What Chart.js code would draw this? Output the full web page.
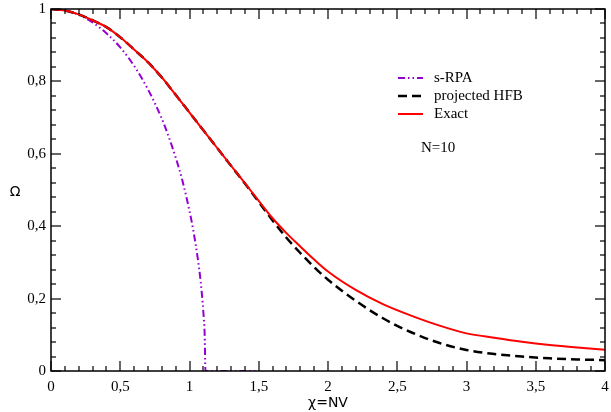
<!DOCTYPE html>
<html>
<head>
<meta charset="utf-8">
<title>Omega vs chi</title>
<script src="https://cdn.jsdelivr.net/npm/chart.js@4.4.1/dist/chart.umd.min.js"></script>
<style>
    html, body { margin: 0; padding: 0; background: #fff; }
    #wrap { width: 611px; height: 412px; }
</style>
</head>
<body>
<div id="wrap"><canvas id="omegaChart" width="611" height="412"></canvas></div>
<script>
// Datos (chi = N V)
const chiGrid = [0, 0.1, 0.2, 0.3, 0.4, 0.5, 0.6, 0.7, 0.8, 0.9, 1.0, 1.1, 1.2, 1.3, 1.4, 1.5,
    1.6, 1.7, 1.8, 1.9, 2.0, 2.2, 2.4, 2.6, 2.8, 3.0, 3.2, 3.4, 3.6, 3.8, 4.0];
const omegaExact = [1.000, 0.996, 0.985, 0.969, 0.950, 0.922, 0.888, 0.853, 0.811, 0.763, 0.714,
    0.665, 0.616, 0.567, 0.519, 0.470, 0.422, 0.381, 0.344, 0.308, 0.275, 0.224, 0.184,
    0.153, 0.126, 0.104, 0.092, 0.081, 0.072, 0.065, 0.059];
const omegaHFB = [1.000, 0.996, 0.985, 0.969, 0.950, 0.922, 0.888, 0.853, 0.811, 0.763, 0.714,
    0.665, 0.616, 0.567, 0.518, 0.467, 0.416, 0.368, 0.326, 0.287, 0.252, 0.194, 0.145,
    0.107, 0.078, 0.058, 0.047, 0.040, 0.035, 0.032, 0.030];

const chiRPA = [0, 0.1, 0.2, 0.3, 0.4, 0.5, 0.6, 0.7, 0.8, 0.85, 0.9, 0.95, 1.0, 1.03, 1.06,
    1.08, 1.1, 1.11, 1.115, 1.2, 1.3, 1.4, 1.48];
const omegaRPA = [1.000, 0.996, 0.984, 0.963, 0.933, 0.894, 0.843, 0.778, 0.697, 0.647, 0.590,
    0.524, 0.442, 0.383, 0.310, 0.249, 0.163, 0.095, 0, 0, 0, 0, 0];

const seriesNames = ['s-RPA', 'projected HFB', 'Exact'];
const xTicksMajor = 0.5, xTicksMinor = 0.1;
const yTicksMajor = 0.2, yTicksMinor = 0.04;

function toPoints(xs, ys) {
    return xs.map((x, i) => ({ x: x, y: ys[i] }));
}

// Formato con coma decimal
function commaLabel(value) {
    const v = Math.round(value * 100) / 100;
    return String(v).replace('.', ',');
}

// Marcas interiores en los cuatro lados
function innerTicks(g, area, scale, minor, major, horizontal) {
    const lo = scale.min, hi = scale.max;
    const n = Math.round((hi - lo) / minor);
    for (let i = 0; i <= n; i++) {
        const v = lo + i * minor;
        const r = v / major;
        const len = Math.abs(r - Math.round(r)) < 1e-6 ? 10 : 5;
        const p = Math.round(scale.getPixelForValue(v));
        if (horizontal) {
            g.beginPath();
            g.moveTo(p, area.bottom);
            g.lineTo(p, area.bottom - len);
            g.stroke();
            g.beginPath();
            g.moveTo(p, area.top);
            g.lineTo(p, area.top + len);
            g.stroke();
        } else {
            g.beginPath();
            g.moveTo(area.left, p);
            g.lineTo(area.left + len, p);
            g.stroke();
            g.beginPath();
            g.moveTo(area.right, p);
            g.lineTo(area.right - len, p);
            g.stroke();
        }
    }
}

const framePlugin = {
    id: 'frame',
    afterDraw(chart) {
        const g = chart.ctx;
        const a = chart.chartArea;
        g.save();
        g.setLineDash([]);
        g.strokeStyle = '#000000';
        g.lineWidth = 1.2;
        innerTicks(g, a, chart.scales.x, xTicksMinor, xTicksMajor, true);
        innerTicks(g, a, chart.scales.y, yTicksMinor, yTicksMajor, false);
        g.lineWidth = 1.5;
        g.strokeRect(a.left, a.top, a.right - a.left, a.bottom - a.top);

        // leyenda
        const rows = [78, 96, 114];
        g.font = '15px "Liberation Serif"';
        g.textBaseline = 'middle';
        chart.data.datasets.forEach((ds, i) => {
            g.strokeStyle = ds.borderColor;
            g.lineWidth = ds.borderWidth;
            g.setLineDash(ds.borderDash || []);
            g.beginPath();
            g.moveTo(398, rows[i]);
            g.lineTo(423, rows[i]);
            g.stroke();
            g.setLineDash([]);
            g.fillStyle = '#000';
            g.fillText(ds.label, 434, rows[i]);
        });
        g.fillText('N=10', 421, 148);

        // titulo eje y (horizontal)
        g.font = '14px "DejaVu Sans"';
        g.textAlign = 'center';
        g.fillText('Ω', 15, 192);
        g.restore();
    }
};

new Chart(document.getElementById('omegaChart'), {
    type: 'line',
    data: {
        datasets: [{
            label: seriesNames[0],
            data: toPoints(chiRPA, omegaRPA),
            borderColor: '#9400d3',
            borderWidth: 2,
            borderDash: [7, 3, 1.5, 3, 1.5, 3],
            order: 3
        }, {
            label: seriesNames[1],
            data: toPoints(chiGrid, omegaHFB),
            borderColor: '#000000',
            borderWidth: 2.5,
            borderDash: [9, 5],
            order: 2
        }, {
            label: seriesNames[2],
            data: toPoints(chiGrid, omegaExact),
            borderColor: '#ff0000',
            borderWidth: 2,
            order: 1
        }]
    },
    options: {
        responsive: false,
        animation: false,
        elements: {
            point: { radius: 0 },
            line: { cubicInterpolationMode: 'monotone' }
        },
        layout: { padding: { top: 9, right: 6, left: 0, bottom: 0 } },
        plugins: { legend: { display: false }, tooltip: { enabled: false } },
        scales: {
            x: {
                type: 'linear',
                min: 0,
                max: 4,
                border: { display: false },
                grid: { display: false },
                ticks: {
                    stepSize: xTicksMajor,
                    padding: -1, // el tickLength de 8 px sigue contando
                    color: '#000',
                    maxRotation: 0,
                    font: { family: 'Liberation Serif', size: 15 },
                    callback: commaLabel
                },
                title: {
                    display: true,
                    text: 'χ=NV',
                    color: '#000',
                    padding: { top: 0, bottom: 0 },
                    font: { family: 'DejaVu Sans', size: 14 }
                },
                afterFit(scale) { scale.height = 41; }
            },
            y: {
                min: 0,
                max: 1,
                border: { display: false },
                grid: { display: false },
                ticks: {
                    stepSize: yTicksMajor,
                    padding: -3,
                    color: '#000',
                    font: { family: 'Liberation Serif', size: 15 },
                    callback: commaLabel
                },
                afterFit(scale) { scale.width = 51; }
            }
        }
    },
    plugins: [framePlugin]
});
</script>
</body>
</html>
